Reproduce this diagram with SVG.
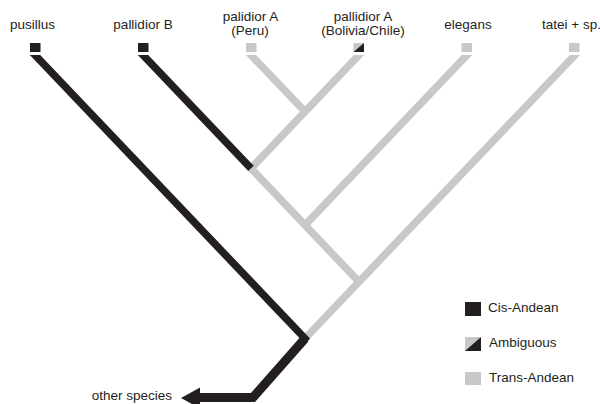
<svg xmlns="http://www.w3.org/2000/svg" width="600" height="404" viewBox="0 0 600 404">
  <defs>
    <style>
      .lbl { font-family: "Liberation Sans", Arial, sans-serif; font-size: 13.5px; fill: #231f20; }
      .mid { text-anchor: middle; }
      .gray { stroke: #c7c8ca; stroke-width: 7.5; fill: none; stroke-linecap: butt; }
      .black { stroke: #231f20; stroke-width: 7.5; fill: none; stroke-linecap: butt; stroke-linejoin: miter; stroke-miterlimit: 10; }
      .sqb { fill: #231f20; }
      .sqg { fill: #c7c8ca; }
    </style>
    <clipPath id="below">
      <rect x="0" y="55" width="600" height="360"/>
    </clipPath>
  </defs>
  <rect width="600" height="404" fill="#ffffff"/>

  <g id="connectors" clip-path="url(#below)">
    <line class="gray" x1="584.52" y1="45" x2="305" y2="338.5"/>
    <line class="gray" x1="476.52" y1="45" x2="305" y2="225.1"/>
    <line class="gray" x1="368.52" y1="45" x2="251" y2="168.4"/>
    <line class="gray" x1="241.48" y1="45" x2="305" y2="111.7"/>
    <line class="gray" x1="251" y1="168.4" x2="359" y2="281.8"/>
    <line class="black" x1="133.48" y1="45" x2="251" y2="168.4"/>
    <polyline class="black" points="25.48,45 305,338.5 253,397.5 197,397.5"/>
    <polyline class="black" points="305,338.5 253,397.5 197,397.5" style="stroke-width:9"/>
    <polygon points="181,398 200,387.5 200,408.5" fill="#231f20"/>
  </g>

  <g id="pusillus">
    <rect class="sqb" x="30" y="43" width="10.5" height="9"/>
    <text class="lbl mid" x="32.5" y="29">pusillus</text>
  </g>
  <g id="pallidiorB">
    <rect class="sqb" x="138" y="43" width="10.5" height="9"/>
    <text class="lbl mid" x="143" y="29">pallidior B</text>
  </g>
  <g id="palidiorA-Peru">
    <rect class="sqg" x="246" y="43" width="10.5" height="9"/>
    <text class="lbl mid" x="250.5" y="21">palidior A</text>
    <text class="lbl mid" x="250" y="35">(Peru)</text>
  </g>
  <g id="pallidiorA-Bolivia">
    <rect class="sqg" x="353.5" y="43" width="10.5" height="9"/>
    <polygon class="sqb" points="353.5,52 364,43 364,52"/>
    <text class="lbl mid" x="363" y="21">pallidior A</text>
    <text class="lbl mid" x="363" y="35">(Bolivia/Chile)</text>
  </g>
  <g id="elegans">
    <rect class="sqg" x="461.5" y="43" width="10.5" height="9"/>
    <text class="lbl mid" x="468" y="29">elegans</text>
  </g>
  <g id="tatei">
    <rect class="sqg" x="569" y="43" width="10.5" height="9"/>
    <text class="lbl" x="542" y="29">tatei + sp.</text>
  </g>
  <g id="other-species">
    <text class="lbl" x="172" y="400" text-anchor="end">other species</text>
  </g>

  <g id="legend">
    <rect class="sqb" x="465" y="302" width="16" height="14"/>
    <text class="lbl" x="488" y="312">Cis-Andean</text>
    <rect class="sqg" x="465" y="337" width="16" height="14"/>
    <polygon class="sqb" points="465,351 481,337 481,351"/>
    <text class="lbl" x="489" y="347">Ambiguous</text>
    <rect class="sqg" x="465" y="372" width="16" height="13"/>
    <text class="lbl" x="489" y="382">Trans-Andean</text>
  </g>
</svg>
